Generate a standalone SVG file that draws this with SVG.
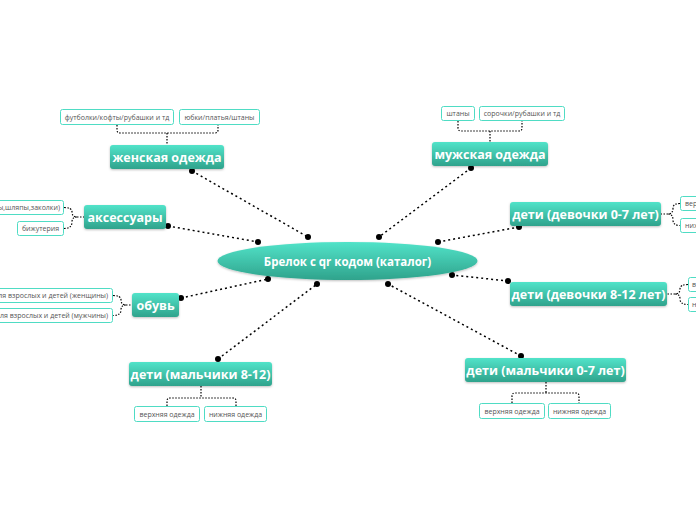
<svg xmlns="http://www.w3.org/2000/svg" width="696" height="520" viewBox="0 0 696 520">
<defs>
<linearGradient id="g" x1="0" y1="0" x2="0" y2="1">
<stop offset="0" stop-color="#52e3c9"/>
<stop offset="1" stop-color="#2fa38c"/>
</linearGradient>
<filter id="sh" x="-10%" y="-20%" width="120%" height="150%">
<feDropShadow dx="0" dy="1" stdDeviation="0.8" flood-color="#000" flood-opacity="0.25"/>
</filter>
</defs>
<style>
.main{fill:url(#g);filter:url(#sh)}
.mt{fill:#fff;font-family:"Open Sans","DejaVu Sans",sans-serif;font-weight:bold;font-size:12.5px;text-anchor:middle}
.ct{fill:#fff;font-family:"Open Sans","DejaVu Sans",sans-serif;font-weight:bold;font-size:11.5px;text-anchor:middle}
.child{fill:#fff;stroke:#4fdcc4;stroke-width:1}
.st{fill:#555;font-family:"Open Sans","DejaVu Sans",sans-serif;font-size:7px;text-anchor:middle}
.conn{fill:none;stroke:#000;stroke-width:1.5;stroke-dasharray:2 3}
.br{fill:none;stroke:#000;stroke-width:1.2;stroke-dasharray:1.5 1.5}
.dot{fill:#000}
</style>
<rect width="696" height="520" fill="#fff"/>
<g id="connectors">
<line class="conn" x1="192" y1="171" x2="308" y2="237"/>
<line class="conn" x1="471" y1="168" x2="379" y2="237"/>
<line class="conn" x1="168" y1="226" x2="258" y2="242"/>
<line class="conn" x1="519" y1="227" x2="438" y2="242"/>
<line class="conn" x1="181" y1="298" x2="268" y2="279"/>
<line class="conn" x1="508" y1="281" x2="452" y2="275"/>
<line class="conn" x1="218" y1="359" x2="317" y2="284"/>
<line class="conn" x1="521" y1="356" x2="388" y2="284"/>
<g class="dot">
<circle cx="192" cy="171" r="3"/><circle cx="308" cy="237" r="3"/>
<circle cx="471" cy="168" r="3"/><circle cx="379" cy="237" r="3"/>
<circle cx="168" cy="226" r="3"/><circle cx="258" cy="242" r="3"/>
<circle cx="519" cy="227" r="3"/><circle cx="438" cy="242" r="3"/>
<circle cx="181" cy="298" r="3"/><circle cx="268" cy="279" r="3"/>
<circle cx="508" cy="281" r="3"/><circle cx="452" cy="275" r="3"/>
<circle cx="218" cy="359" r="3"/><circle cx="317" cy="284" r="3"/>
<circle cx="521" cy="356" r="3"/><circle cx="388" cy="284" r="3"/>
</g>
<path class="br" d="M117,125 V130 Q117,133 120,133 H215 Q218,133 218,130 V125 M167,133 V145"/>
<path class="br" d="M458,121 V128 Q458,131 461,131 H519 Q522,131 522,128 V121 M490,131 V142"/>
<path class="br" d="M64,207.5 Q72,207.5 72,212 Q72,217 77,217 Q72,217 72,222 Q72,228.5 64,228.5 M77,217 H84"/>
<path class="br" d="M113,295.5 Q121,295.5 121,300 Q121,305 126,305 Q121,305 121,310 Q121,315.5 113,315.5 M126,305 H132"/>
<path class="br" d="M680,203.5 Q673,203.5 673,208 Q673,214 668,214 Q673,214 673,220 Q673,225.5 680,225.5 M668,214 H661"/>
<path class="br" d="M688,284.5 Q680,284.5 680,289 Q680,294 675,294 Q680,294 680,299 Q680,304.5 688,304.5 M675,294 H667"/>
<path class="br" d="M167,406 V401 Q167,398 170,398 H233 Q236,398 236,401 V406 M201,386 V398"/>
<path class="br" d="M512,403 V396 Q512,393 515,393 H576 Q579,393 579,396 V403 M546,382 V393"/>
</g>
<g id="center">
<ellipse class="main" cx="347.5" cy="261" rx="130" ry="19"/>
<text class="ct" x="347.5" y="265.5">Брелок с qr кодом (каталог)</text>
</g>
<g id="n-women">
<rect class="main" x="110" y="145" width="114" height="24" rx="3"/>
<text class="mt" x="167" y="161.5">женская одежда</text>
</g>
<g id="n-women-c1"><rect class="child" x="60.5" y="109.5" width="113" height="15" rx="2"/><text class="st" x="117" y="119.5">футболки/кофты/рубашки и тд</text></g>
<g id="n-women-c2"><rect class="child" x="179.5" y="109.5" width="80" height="15" rx="2"/><text class="st" x="219.5" y="119.5">юбки/платья/штаны</text></g>
<g id="n-men">
<rect class="main" x="432" y="142" width="116" height="24" rx="3"/>
<text class="mt" x="490" y="158.5">мужская одежда</text>
</g>
<g id="n-men-c1"><rect class="child" x="441.5" y="106.5" width="33" height="14" rx="2"/><text class="st" x="458" y="116">штаны</text></g>
<g id="n-men-c2"><rect class="child" x="479.5" y="106.5" width="85" height="14" rx="2"/><text class="st" x="522" y="116">сорочки/рубашки и тд</text></g>
<g id="n-acc">
<rect class="main" x="84" y="205" width="82" height="24" rx="3"/>
<text class="mt" x="125" y="221.5">аксессуары</text>
</g>
<g id="n-acc-c1"><rect class="child" x="-10" y="200.5" width="73.5" height="14" rx="2"/><text class="st" x="60" y="210" style="text-anchor:end">ы,шляпы,заколки)</text></g>
<g id="n-acc-c2"><rect class="child" x="17.5" y="221.5" width="46" height="14" rx="2"/><text class="st" x="40.5" y="231">бижутерия</text></g>
<g id="n-g07">
<rect class="main" x="510" y="202" width="151" height="24" rx="3"/>
<text class="mt" x="585.5" y="218.5">дети (девочки 0-7 лет)</text>
</g>
<g id="n-g07-c1"><rect class="child" x="680.5" y="196.5" width="66" height="14" rx="2"/><text class="st" x="685" y="206" style="text-anchor:start">верхняя одежда</text></g>
<g id="n-g07-c2"><rect class="child" x="680.5" y="218.5" width="63" height="14" rx="2"/><text class="st" x="685" y="228" style="text-anchor:start">нижняя одежда</text></g>
<g id="n-shoes">
<rect class="main" x="132" y="293" width="47" height="24" rx="3"/>
<text class="mt" x="155.5" y="309.5">обувь</text>
</g>
<g id="n-shoes-c1"><rect class="child" x="-10" y="288.5" width="122.5" height="14" rx="2"/><text class="st" x="108" y="298" style="text-anchor:end">ля взрослых и детей (женщины)</text></g>
<g id="n-shoes-c2"><rect class="child" x="-10" y="308.5" width="122.5" height="14" rx="2"/><text class="st" x="108" y="318" style="text-anchor:end">ля взрослых и детей (мужчины)</text></g>
<g id="n-g812">
<rect class="main" x="510" y="282" width="157" height="24" rx="3"/>
<text class="mt" x="588.5" y="298.5">дети (девочки 8-12 лет)</text>
</g>
<g id="n-g812-c1"><rect class="child" x="688.5" y="277.5" width="66" height="14" rx="2"/><text class="st" x="692" y="287" style="text-anchor:start">верхняя одежда</text></g>
<g id="n-g812-c2"><rect class="child" x="688.5" y="297.5" width="63" height="14" rx="2"/><text class="st" x="692" y="307" style="text-anchor:start">нижняя одежда</text></g>
<g id="n-b812">
<rect class="main" x="129" y="362" width="143" height="24" rx="3"/>
<text class="mt" x="200.5" y="378.5">дети (мальчики 8-12)</text>
</g>
<g id="n-b812-c1"><rect class="child" x="134.5" y="406.5" width="65" height="15" rx="2"/><text class="st" x="167" y="416.5">верхняя одежда</text></g>
<g id="n-b812-c2"><rect class="child" x="204.5" y="406.5" width="62" height="15" rx="2"/><text class="st" x="235.5" y="416.5">нижняя одежда</text></g>
<g id="n-b07">
<rect class="main" x="465" y="358" width="161" height="24" rx="3"/>
<text class="mt" x="545.5" y="374.5">дети (мальчики 0-7 лет)</text>
</g>
<g id="n-b07-c1"><rect class="child" x="479.5" y="403.5" width="65" height="15" rx="2"/><text class="st" x="512" y="413.5">верхняя одежда</text></g>
<g id="n-b07-c2"><rect class="child" x="548.5" y="403.5" width="62" height="15" rx="2"/><text class="st" x="579.5" y="413.5">нижняя одежда</text></g>
</svg>
